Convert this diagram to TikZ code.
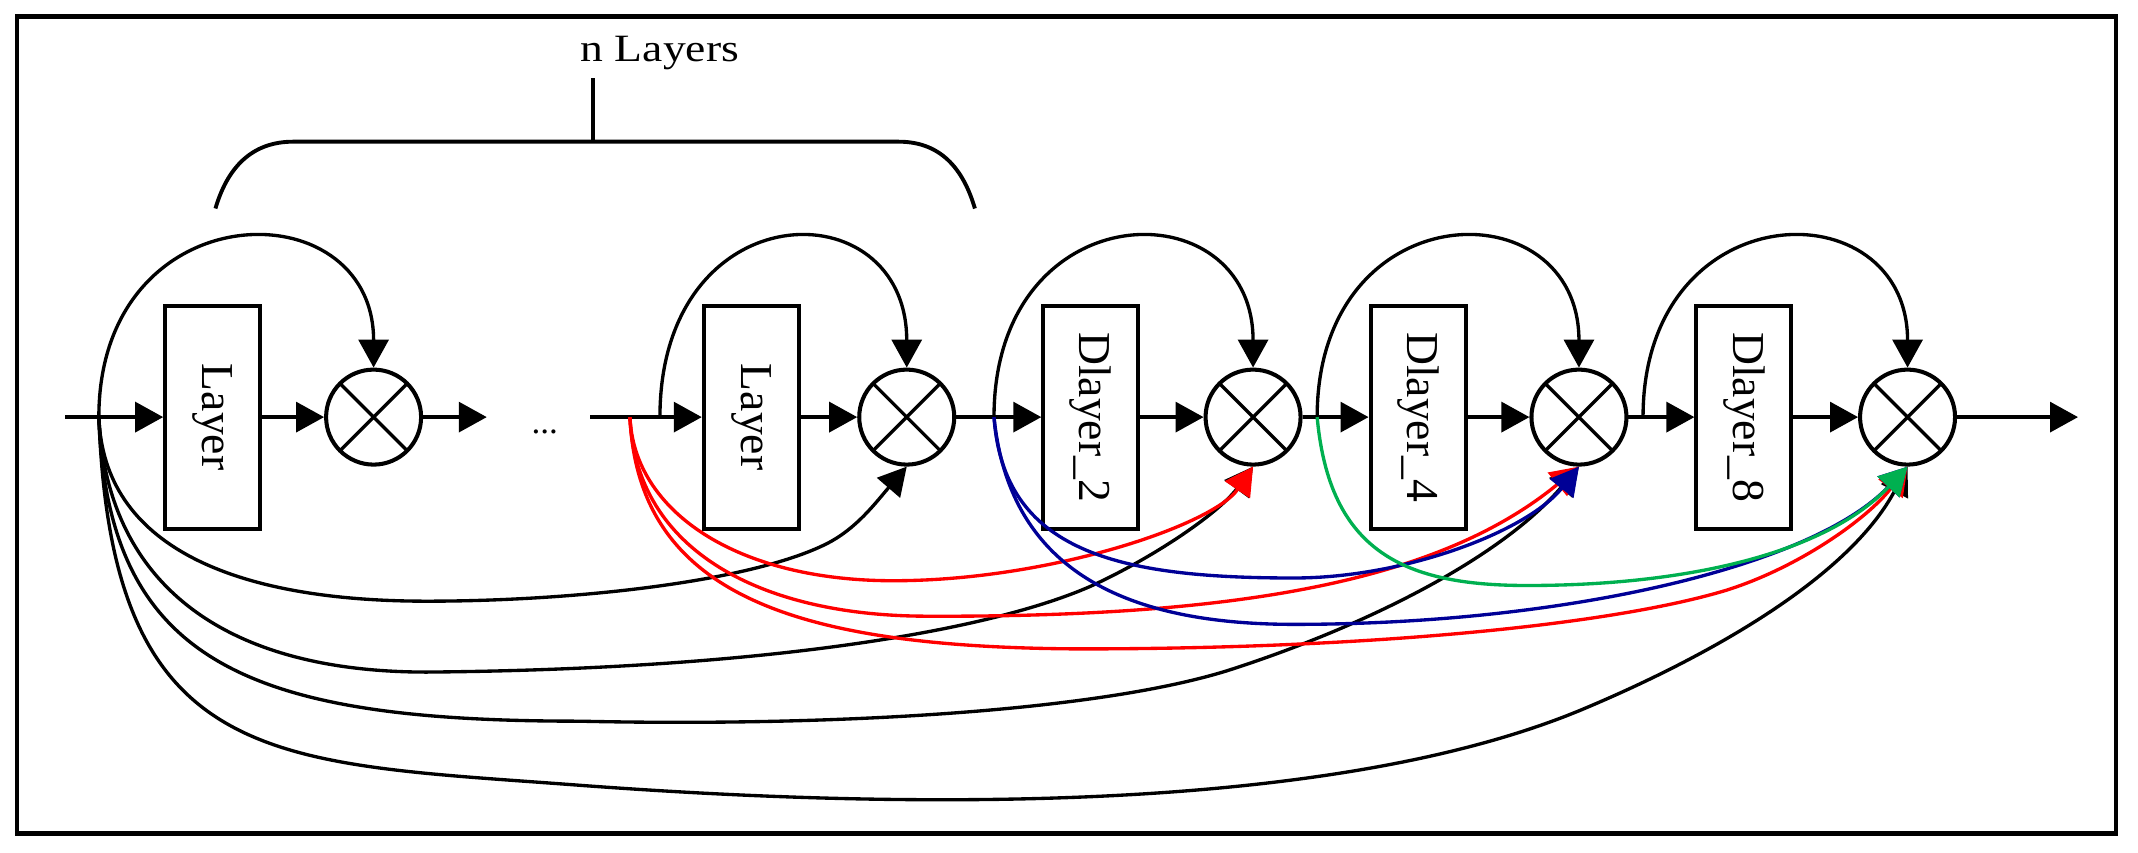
\documentclass[tikz,border=0pt]{standalone}
\usepackage{fontspec}
\setmainfont{Liberation Serif}
\usepackage{graphicx}
\usetikzlibrary{arrows.meta}
\definecolor{skipblue}{RGB}{0,0,150}
\definecolor{skipgreen}{RGB}{0,176,80}

\begin{document}
\begin{tikzpicture}[x=1.3635mm, y=1.3635mm, line width=0.95pt, >={Triangle[length=2.8mm,width=3mm]},
	layerbox/.style={draw, line width=1.15pt, minimum width=9.5mm, minimum height=22.3mm, inner sep=0pt, font=\fontsize{13}{15}\selectfont},
	mult/.style={draw, circle, line width=1.15pt, minimum size=9.5mm, inner sep=0pt,
		path picture={\draw[line width=0.95pt] (path picture bounding box.south west) -- (path picture bounding box.north east)
			(path picture bounding box.north west) -- (path picture bounding box.south east);}}]
	\useasboundingbox (0,0) rectangle (156.8,62.49);
	\draw[line width=1.3pt] (1.25,1.37) rectangle (155.2,61.26);
	\coordinate (in) at (4.77,31.9);
	\coordinate (f1) at (7.25,31.9);
	\node[layerbox] (l1) at (15.6,31.9) {\rotatebox{-90}{Layer}};
	\node[mult] (c1) at (27.4,31.9) {};
	\coordinate (o1) at (35.7,31.9);
	\node[anchor=base, inner sep=0pt, font=\fontsize{10}{12}\selectfont] (dots) at (39.95,30.7) {...};
	\coordinate (i2) at (43.3,31.9);
	\coordinate (fr) at (46.2,31.9);
	\coordinate (f2) at (48.4,31.9);
	\node[layerbox] (l2) at (55.1,31.9) {\rotatebox{-90}{Layer}};
	\node[mult] (c2) at (66.5,31.9) {};
	\coordinate (f3) at (72.9,31.9);
	\node[layerbox] (d2) at (80.0,31.9) {\rotatebox{-90}{Dlayer\_2}};
	\node[mult] (c3) at (91.9,31.9) {};
	\coordinate (f4) at (96.6,31.9);
	\node[layerbox] (d4) at (104.0,31.9) {\rotatebox{-90}{Dlayer\_4}};
	\node[mult] (c4) at (115.8,31.9) {};
	\coordinate (f5) at (120.5,31.9);
	\node[layerbox] (d8) at (127.9,31.9) {\rotatebox{-90}{Dlayer\_8}};
	\node[mult] (c5) at (139.9,31.9) {};
	\coordinate (out) at (152.4,31.9);
	\node[anchor=base, inner sep=0.7mm, font=\fontsize{11}{13}\selectfont] (title) at (48.4,58.0) {\scalebox{1.18}[1]{n Layers}};
	\coordinate (brtop) at (43.5,52.1);
	\draw[line width=1.1pt] (15.8,47.2) .. controls (16.8,50.6) and (18.8,52.1) .. (21.5,52.1) -- (65.9,52.1) .. controls (68.6,52.1) and (70.5,50.6) .. (71.5,47.2);
	\draw (brtop) -- (brtop |- title.south);
	\draw[->] (in) -- (l1);
	\draw[->] (l1) -- (c1);
	\draw[->] (c1) -- (o1);
	\draw[->] (i2) -- (l2);
	\draw[->] (l2) -- (c2);
	\draw[->] (c2) -- (d2);
	\draw[->] (d2) -- (c3);
	\draw[->] (c3) -- (d4);
	\draw[->] (d4) -- (c4);
	\draw[->] (c4) -- (d8);
	\draw[->] (d8) -- (c5);
	\draw[->] (c5) -- (out);
	\draw[->] (f1) .. controls +(0,16.6) and +(0,13.3) .. (c1.north);
	\draw[->] (f2) .. controls +(0,16.6) and +(0,13.3) .. (c2.north);
	\draw[->] (f3) .. controls +(0,16.6) and +(0,13.3) .. (c3.north);
	\draw[->] (f4) .. controls +(0,16.6) and +(0,13.3) .. (c4.north);
	\draw[->] (f5) .. controls +(0,16.6) and +(0,13.3) .. (c5.north);
	\draw[->] (f1) .. controls (7.6,22.5) and (17,18.4) .. (31.3,18.4) .. controls (42,18.4) and (55,19.8) .. (60.6,22.6) .. controls (62.8,23.7) and (64.2,25.6) .. (c2.south);
	\draw[->] (f1) .. controls (7.8,20) and (16,13.2) .. (31.3,13.2) .. controls (55,13.4) and (72,16) .. (80,19.5) .. controls (85,21.8) and (89.5,25) .. (c3.south);
	\draw[->] (f1) .. controls (7.9,14) and (18,9.6) .. (42.5,9.6) .. controls (60,9.2) and (80,10.2) .. (90,13.3) .. controls (100,16.5) and (110,21.5) .. (c4.south);
	\draw[->] (f1) .. controls (8.2,6) and (20,6.6) .. (42.5,4.9) .. controls (68,3.0) and (98,3.0) .. (115.9,10.4) .. controls (125,14.2) and (135.5,20) .. (c5.south);
	\draw[red, ->] (fr) .. controls (46.5,25) and (54,19.9) .. (65.5,19.9) .. controls (77,19.9) and (89,24) .. (c3.south);
	\draw[red, ->] (fr) .. controls (46.6,22) and (56,17.3) .. (68,17.3) .. controls (92,17.2) and (106,20.2) .. (c4.south);
	\draw[red, ->] (fr) .. controls (46.8,19) and (58,15) .. (79.2,14.9) .. controls (100,14.9) and (118,16.6) .. (126.6,19.2) .. controls (132,20.9) and (137,24.5) .. (c5.south);
	\draw[skipblue, ->] (f3) .. controls (73.6,22) and (82,20.1) .. (94.9,20.1) .. controls (103,20.1) and (112,23.5) .. (c4.south);
	\draw[skipblue, ->] (f3) .. controls (74,21) and (82,16.7) .. (94.9,16.7) .. controls (115,16.7) and (133,21) .. (c5.south);
	\draw[skipgreen, ->] (f4) .. controls (97.5,22) and (103,19.55) .. (112,19.55) .. controls (124,19.55) and (134,22) .. (c5.south);
\end{tikzpicture}
\end{document}
